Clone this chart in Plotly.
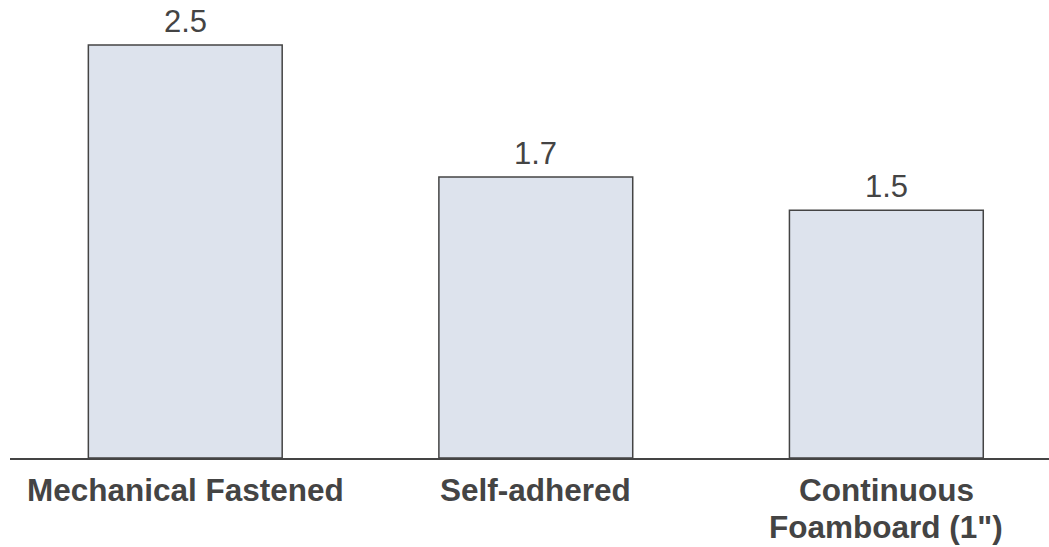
import plotly.graph_objects as go

categories = ["Mechanical Fastened", "Self-adhered", "Continuous<br>Foamboard (1\")"]
values = [2.5, 1.7, 1.5]
value_labels = ["2.5", "1.7", "1.5"]

xs = list(range(len(categories)))

fig = go.Figure()
fig.add_trace(go.Bar(
    x=xs,
    y=values,
    marker=dict(color="#dde3ed", line=dict(color="#444444", width=1.5)),
    width=0.553,
    cliponaxis=False,
))

for xi, v, lab in zip(xs, values, value_labels):
    fig.add_annotation(
        x=xi, y=v, xref="x", yref="y", text=lab, showarrow=False,
        yanchor="bottom", yshift=4,
        font=dict(family="Arial, Liberation Sans", size=31, color="#444444"),
    )

# category labels (tight line spacing as in the reference)
for xi, cat in zip(xs, categories):
    for li, line in enumerate(cat.split("<br>")):
        fig.add_annotation(
            x=xi, y=0, xref="x", yref="paper", text=f"<b>{line}</b>",
            showarrow=False, yanchor="top", xanchor="center",
            yshift=-12 - 37 * li,
            font=dict(family="Arial, Liberation Sans", size=31.5, color="#444444"),
        )

fig.update_layout(
    width=1049, height=547,
    margin=dict(l=10, r=0, t=0, b=89, autoexpand=False),
    plot_bgcolor="white", paper_bgcolor="white",
    showlegend=False,
    xaxis=dict(
        range=[-0.5, 2.464],
        tickmode="array",
        tickvals=xs,
        showticklabels=False,
        showline=True, linecolor="#444444", linewidth=2,
        showgrid=False, zeroline=False,
        ticks="", automargin=False,
    ),
    yaxis=dict(
        range=[0, 2.772],
        visible=False,
        showgrid=False, zeroline=False,
        automargin=False,
    ),
)

fig.write_html("out.html")
